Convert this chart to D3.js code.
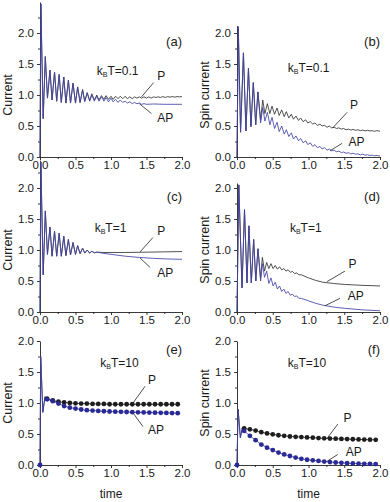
<!DOCTYPE html>
<html>
<head>
<meta charset="utf-8">
<script src="https://cdn.jsdelivr.net/npm/d3@7"></script>
<style>
  body { margin: 0; background: #fff; }
  text { font-family: "Liberation Sans", Arial, Helvetica, sans-serif; fill: #1a1a1a; }
</style>
</head>
<body>
<div id="chart"></div>
<script>
// ---- data (time, value) ----
// (a) current, kBT = 0.1
var aShared = [[0,0],[0.012,2.47],[0.045,0.62],[0.075,1.62],[0.105,0.95],[0.14,1.40],[0.17,0.92],[0.205,1.37],[0.235,0.9],[0.27,1.33],[0.3,0.88],[0.335,1.29],[0.365,0.87],[0.4,1.24],[0.43,0.87],[0.465,1.19],[0.5,0.87],[0.53,1.13],[0.565,0.88]];
var aPTail = [[0.6,1.09],[0.63,0.9],[0.665,1.04],[0.7,0.91],[0.73,1.02],[0.765,0.92],[0.8,1.0],[0.83,0.92],[0.865,0.99],[0.9,0.93],[0.93,0.99],[0.965,0.93],[1.0,0.98],[1.03,0.93],[1.065,0.98],[1.1,0.94],[1.13,0.98],[1.165,0.94],[1.2,0.98],[1.23,0.94],[1.265,0.97],[1.3,0.94],[1.33,0.97],[1.365,0.95],[1.4,0.97],[1.43,0.95],[1.465,0.97],[1.5,0.95],[1.53,0.97],[1.565,0.95],[1.6,0.97],[1.63,0.96],[1.665,0.97],[1.7,0.96],[1.73,0.975],[1.765,0.96],[1.8,0.975],[1.83,0.965],[1.865,0.975],[1.9,0.965],[1.93,0.975],[1.965,0.97],[2.0,0.975]];
var aAPTail = [[0.6,1.08],[0.63,0.89],[0.665,1.03],[0.7,0.9],[0.73,1.0],[0.765,0.9],[0.8,0.98],[0.83,0.9],[0.865,0.97],[0.9,0.9],[0.93,0.96],[0.965,0.89],[1.0,0.95],[1.03,0.89],[1.065,0.93],[1.1,0.88],[1.13,0.92],[1.165,0.88],[1.2,0.9],[1.23,0.87],[1.265,0.89],[1.3,0.86],[1.33,0.88],[1.365,0.86],[1.4,0.87],[1.43,0.85],[1.465,0.86],[1.5,0.85],[1.6,0.855],[1.75,0.85],[2.0,0.85]];

// (b) spin current, kBT = 0.1
var bShared = [[0,0],[0.018,2.1],[0.05,0.4],[0.09,1.68],[0.125,0.42],[0.16,1.43],[0.195,0.49],[0.228,1.2],[0.262,0.52],[0.292,1.05]];
var bPTail = [[0.33,0.6],[0.36,0.92],[0.39,0.7],[0.425,0.86],[0.46,0.7],[0.49,0.82],[0.525,0.69],[0.56,0.79],[0.59,0.67],[0.625,0.76],[0.66,0.65],[0.69,0.73],[0.725,0.63],[0.76,0.69],[0.79,0.61],[0.825,0.66],[0.86,0.59],[0.89,0.63],[0.925,0.57],[0.96,0.6],[0.99,0.55],[1.025,0.57],[1.06,0.53],[1.09,0.55],[1.125,0.51],[1.16,0.53],[1.19,0.5],[1.225,0.51],[1.26,0.48],[1.29,0.5],[1.325,0.47],[1.36,0.48],[1.39,0.46],[1.425,0.47],[1.46,0.45],[1.49,0.46],[1.525,0.44],[1.56,0.45],[1.59,0.435],[1.625,0.445],[1.66,0.43],[1.69,0.44],[1.725,0.425],[1.76,0.435],[1.79,0.42],[1.825,0.43],[1.86,0.42],[1.89,0.425],[1.925,0.415],[1.96,0.425],[2.0,0.415]];
var bAPTail = [[0.33,0.55],[0.36,0.8],[0.39,0.58],[0.425,0.72],[0.46,0.52],[0.49,0.64],[0.525,0.46],[0.56,0.56],[0.59,0.41],[0.625,0.5],[0.66,0.37],[0.69,0.44],[0.725,0.33],[0.76,0.39],[0.79,0.29],[0.825,0.34],[0.86,0.26],[0.89,0.3],[0.925,0.23],[0.96,0.26],[0.99,0.2],[1.025,0.23],[1.06,0.17],[1.09,0.2],[1.125,0.15],[1.16,0.17],[1.19,0.13],[1.225,0.15],[1.26,0.11],[1.29,0.13],[1.325,0.1],[1.36,0.11],[1.39,0.085],[1.425,0.095],[1.46,0.07],[1.49,0.08],[1.525,0.06],[1.56,0.07],[1.59,0.05],[1.625,0.06],[1.66,0.045],[1.69,0.05],[1.725,0.035],[1.76,0.045],[1.79,0.03],[1.825,0.035],[1.86,0.025],[1.89,0.03],[1.925,0.02],[1.96,0.025],[2.0,0.015]];

// (c) current, kBT = 1
var cShared = [[0,0],[0.012,2.42],[0.045,0.6],[0.075,1.63],[0.105,0.93],[0.14,1.37],[0.17,0.9],[0.205,1.3],[0.235,0.9],[0.27,1.27],[0.3,0.9],[0.335,1.22],[0.365,0.91],[0.4,1.17],[0.43,0.92],[0.465,1.12],[0.5,0.93],[0.53,1.07],[0.565,0.94],[0.6,1.03],[0.63,0.95],[0.665,1.0],[0.7,0.95],[0.73,0.98],[0.765,0.955],[0.8,0.965]];
var cPTail = [[0.9,0.96],[1.0,0.96],[1.2,0.96],[1.5,0.965],[1.75,0.97],[2.0,0.975]];
var cAPTail = [[0.9,0.945],[1.0,0.93],[1.2,0.9],[1.4,0.88],[1.6,0.865],[1.8,0.855],[2.0,0.85]];

// (d) spin current, kBT = 1
var dShared = [[0,0],[0.025,2.05],[0.07,0.39],[0.105,1.65],[0.14,0.47],[0.167,1.39],[0.2,0.47],[0.233,1.17],[0.263,0.5],[0.293,1.02]];
var dPTail = [[0.33,0.55],[0.355,0.88],[0.385,0.66],[0.415,0.8],[0.445,0.7],[0.475,0.78],[0.505,0.7],[0.535,0.75],[0.565,0.69],[0.595,0.73],[0.625,0.68],[0.655,0.7],[0.685,0.66],[0.715,0.68],[0.745,0.64],[0.775,0.655],[0.805,0.62],[0.835,0.63],[0.865,0.6],[0.9,0.6],[1.0,0.55],[1.1,0.51],[1.2,0.48],[1.35,0.46],[1.5,0.445],[1.75,0.43],[2.0,0.42]];
var dAPTail = [[0.33,0.5],[0.355,0.78],[0.385,0.56],[0.415,0.66],[0.445,0.46],[0.475,0.55],[0.505,0.42],[0.535,0.48],[0.565,0.37],[0.595,0.42],[0.625,0.33],[0.655,0.37],[0.685,0.3],[0.715,0.33],[0.745,0.27],[0.775,0.29],[0.805,0.25],[0.835,0.26],[0.865,0.22],[0.9,0.22],[1.0,0.18],[1.1,0.14],[1.2,0.11],[1.35,0.08],[1.5,0.06],[1.75,0.035],[2.0,0.02]];

// (e),(f) kBT = 10: initial spike then sampled points
var dotTimes = [0.1,0.18,0.26,0.34,0.42,0.5,0.58,0.66,0.74,0.82,0.9,0.98,1.06,1.14,1.22,1.3,1.38,1.46,1.54,1.62,1.7,1.78,1.86,1.94];
var eSpike = [[0,0],[0.01,1.75],[0.04,0.85],[0.07,1.1]];
var ePDots = [1.07,1.04,1.02,1.01,1.0,0.995,0.99,0.99,0.985,0.985,0.985,0.98,0.98,0.98,0.98,0.98,0.98,0.98,0.98,0.98,0.98,0.98,0.98,0.98];
var eAPDots = [1.06,1.03,0.99,0.95,0.925,0.91,0.895,0.885,0.878,0.872,0.867,0.863,0.86,0.857,0.855,0.852,0.85,0.848,0.846,0.844,0.842,0.84,0.838,0.836];
var fSpike = [[0,0],[0.015,0.9],[0.047,0.44],[0.075,0.6]];
var fPDots = [0.59,0.575,0.555,0.53,0.51,0.495,0.48,0.47,0.46,0.455,0.45,0.445,0.44,0.435,0.43,0.427,0.424,0.421,0.418,0.415,0.413,0.41,0.408,0.406];
var fAPDots = [0.55,0.47,0.4,0.33,0.28,0.24,0.2,0.17,0.145,0.12,0.1,0.085,0.075,0.065,0.055,0.047,0.04,0.035,0.03,0.026,0.022,0.019,0.017,0.015];

var xTicks = [0, 0.5, 1.0, 1.5, 2.0];
var xMinor = [0.25, 0.75, 1.25, 1.75];
var yTicks = [0, 0.5, 1.0, 1.5, 2.0];
var yMinor = [0.25, 0.75, 1.25, 1.75, 2.25];

function withDots(spike, vals) {
  return spike.concat(dotTimes.map(function(t, i) { return [t, vals[i]]; }));
}

// ---- panel setup ----
var width = 390, height = 502;
var colX = [[40, 182], [237, 380]];
var rowZero = [157, 312, 465];
var unit = 62;
var blue = "#4242a6", black = "#333333";

var panels = [
  {tag: "(a)", col: 0, row: 0, yMax: 2.5, ylab: "Current", kT: "0.1",
   P: aShared.concat(aPTail), AP: aShared.concat(aAPTail),
   kPos: [0.8, 1.37], pPos: [1.65, 1.3], pLine: [[1.6, 1.2], [1.43, 0.97]],
   apPos: [1.65, 0.62], apLine: [[1.57, 0.7], [1.4, 0.86]]},
  {tag: "(b)", col: 1, row: 0, yMax: 2.12, ylab: "Spin current", kT: "0.1",
   P: bShared.concat(bPTail), AP: bShared.concat(bAPTail),
   kPos: [0.71, 1.42], pPos: [1.58, 0.82], pLine: [[1.54, 0.72], [1.34, 0.47]],
   apPos: [1.56, 0.23], apLine: [[1.47, 0.22], [1.3, 0.1]]},
  {tag: "(c)", col: 0, row: 1, yMax: 2.45, ylab: "Current", kT: "1",
   P: cShared.concat(cPTail), AP: cShared.concat(cAPTail),
   kPos: [0.77, 1.34], pPos: [1.65, 1.29], pLine: [[1.59, 1.2], [1.41, 0.97]],
   apPos: [1.65, 0.62], apLine: [[1.55, 0.72], [1.41, 0.87]]},
  {tag: "(d)", col: 1, row: 1, yMax: 2.08, ylab: "Spin current", kT: "1",
   P: dShared.concat(dPTail), AP: dShared.concat(dAPTail),
   kPos: [0.74, 1.34], pPos: [1.56, 0.76], pLine: [[1.51, 0.66], [1.26, 0.49]],
   apPos: [1.55, 0.25], apLine: [[1.44, 0.22], [1.23, 0.1]]},
  {tag: "(e)", col: 0, row: 2, yMax: 2.0, ylab: "Current", kT: "10",
   P: withDots(eSpike, ePDots), AP: withDots(eSpike, eAPDots),
   Pdots: ePDots, APdots: eAPDots,
   kPos: [0.85, 1.63], pPos: [1.52, 1.35], pLine: [[1.48, 1.27], [1.31, 1.0]],
   apPos: [1.52, 0.55], apLine: [[1.45, 0.62], [1.31, 0.84]]},
  {tag: "(f)", col: 1, row: 2, yMax: 2.0, ylab: "Spin current", kT: "10",
   P: withDots(fSpike, fPDots), AP: withDots(fSpike, fAPDots),
   Pdots: fPDots, APdots: fAPDots,
   kPos: [0.71, 1.63], pPos: [1.49, 0.75], pLine: [[1.41, 0.66], [1.26, 0.43]],
   apPos: [1.52, 0.2], apLine: [[1.41, 0.17], [1.26, 0.06]]}
];

var svg = d3.select("#chart").append("svg")
  .attr("width", width)
  .attr("height", height);

panels.forEach(function(p) {
  var x = d3.scaleLinear().domain([0, 2]).range(colX[p.col]);
  var z = rowZero[p.row];
  var y = d3.scaleLinear().domain([0, p.yMax]).range([z, z - p.yMax * unit]);
  var g = svg.append("g");

  // axes
  g.append("g")
    .attr("class", "xaxis")
    .attr("transform", "translate(0," + z + ")")
    .call(d3.axisBottom(x).tickValues(xTicks).tickFormat(d3.format(".1f")).tickSize(3).tickSizeOuter(0));
  g.append("g")
    .attr("transform", "translate(0," + z + ")")
    .call(d3.axisBottom(x).tickValues(xMinor).tickFormat("").tickSize(2).tickSizeOuter(0))
    .select(".domain").remove();
  g.append("g")
    .attr("transform", "translate(" + colX[p.col][0] + ",0)")
    .call(d3.axisLeft(y).tickValues(yTicks).tickFormat(d3.format(".1f")).tickSize(3).tickSizeOuter(0));
  g.append("g")
    .attr("transform", "translate(" + colX[p.col][0] + ",0)")
    .call(d3.axisLeft(y).tickValues(yMinor.filter(function(v) { return v < p.yMax; })).tickFormat("").tickSize(2).tickSizeOuter(0))
    .select(".domain").remove();
  g.selectAll(".domain, .tick line").attr("stroke", "#222").attr("stroke-width", 0.9);
  g.selectAll(".tick text").style("font-size", "11.5px").attr("fill", "#222");
  g.selectAll(".xaxis .tick text").attr("y", 4);

  // y title
  g.append("text")
    .attr("transform", "translate(" + (colX[p.col][0] - 31) + "," + y(1.0) + ") rotate(-90)")
    .attr("text-anchor", "middle")
    .attr("dominant-baseline", "middle")
    .style("font-size", "12.5px")
    .text(p.ylab);

  // curves
  var line = d3.line()
    .x(function(d) { return x(d[0]); })
    .y(function(d) { return y(d[1]); });
  g.append("path")
    .attr("d", line(p.P))
    .attr("fill", "none")
    .attr("stroke", black)
    .attr("stroke-width", 0.85);
  g.append("path")
    .attr("d", line(p.AP))
    .attr("fill", "none")
    .attr("stroke", blue)
    .attr("stroke-width", 0.85);

  if (p.Pdots) {
    g.selectAll(".pdot").data(p.Pdots).enter().append("circle")
      .attr("cx", function(d, i) { return x(dotTimes[i]); })
      .attr("cy", function(d) { return y(d); })
      .attr("r", 2.4)
      .attr("fill", "#1e1e1e");
    g.selectAll(".apdot").data(p.APdots).enter().append("circle")
      .attr("cx", function(d, i) { return x(dotTimes[i]); })
      .attr("cy", function(d) { return y(d); })
      .attr("r", 2.4)
      .attr("fill", "#2a2a96");
    g.append("circle")
      .attr("cx", x(0)).attr("cy", y(0)).attr("r", 2.4)
      .attr("fill", "#2a2a96");
  }

  // panel tag
  g.append("text")
    .attr("x", x(2.0))
    .attr("y", y(1.84))
    .attr("text-anchor", "end")
    .attr("dominant-baseline", "middle")
    .style("font-size", "13px")
    .text(p.tag);

  // kBT label
  var kt = g.append("text")
    .attr("x", x(p.kPos[0]))
    .attr("y", y(p.kPos[1]))
    .attr("dominant-baseline", "middle")
    .style("font-size", "12px");
  kt.append("tspan").text("k");
  kt.append("tspan").attr("dy", 3).style("font-size", "7px").text("B");
  kt.append("tspan").attr("dy", -3).text("T=" + p.kT);

  // P / AP labels with leaders
  g.append("text")
    .attr("x", x(p.pPos[0])).attr("y", y(p.pPos[1]))
    .attr("dominant-baseline", "middle")
    .style("font-size", "12px")
    .text("P");
  g.append("text")
    .attr("x", x(p.apPos[0])).attr("y", y(p.apPos[1]))
    .attr("dominant-baseline", "middle")
    .style("font-size", "12px")
    .text("AP");
  [p.pLine, p.apLine].forEach(function(l) {
    g.append("line")
      .attr("x1", x(l[0][0])).attr("y1", y(l[0][1]))
      .attr("x2", x(l[1][0])).attr("y2", y(l[1][1]))
      .attr("stroke", "#222")
      .attr("stroke-width", 0.8);
  });

  // time label on bottom row
  if (p.row === 2) {
    g.append("text")
      .attr("x", x(1.0))
      .attr("y", 495)
      .attr("text-anchor", "middle")
      .attr("dominant-baseline", "middle")
      .style("font-size", "12px")
      .text("time");
  }
});
</script>
</body>
</html>
